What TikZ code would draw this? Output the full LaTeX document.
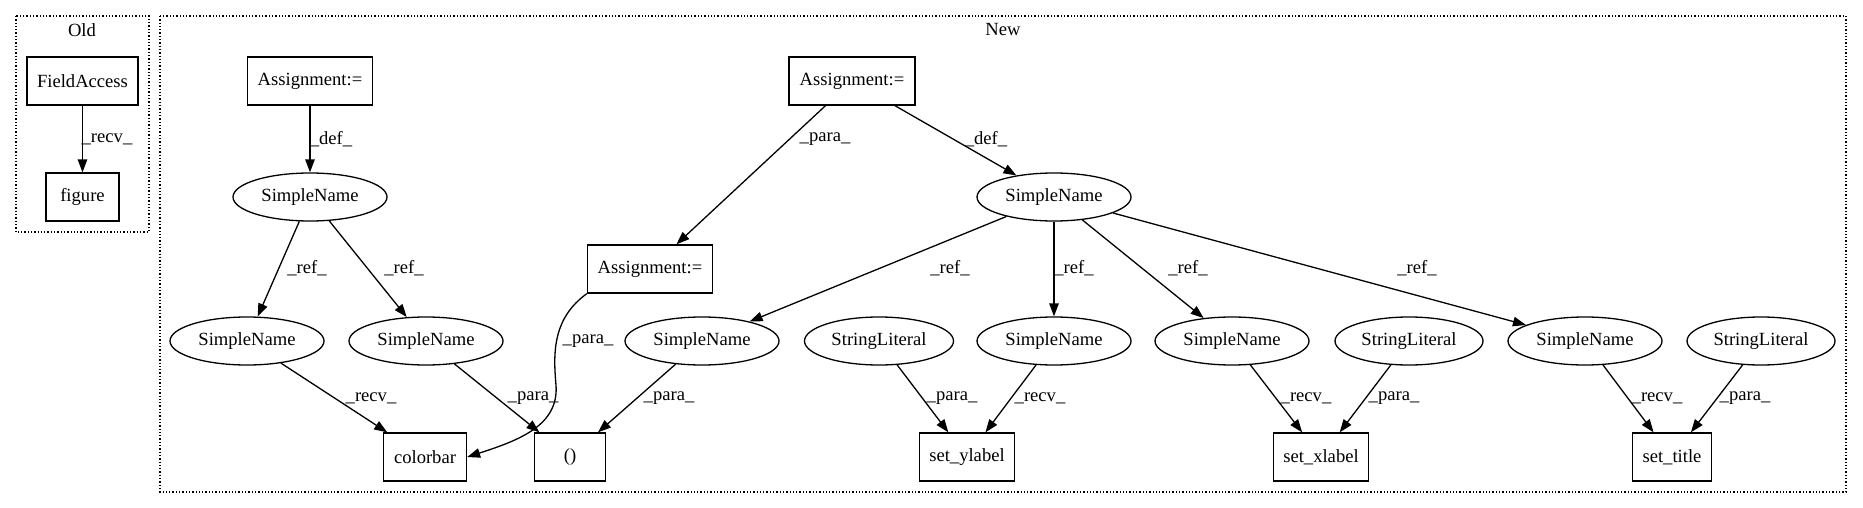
\documentclass[tikz,border=0pt]{standalone}
\usepackage{fontspec}
\setmainfont{Liberation Serif}
\usetikzlibrary{shapes.geometric,arrows.meta}
\begin{document}
\begin{tikzpicture}[x=1pt,y=1pt,
  every node/.style={font=\fontsize{18.6}{22}\selectfont},
  boxn/.style={draw,rectangle,line width=1.3pt,minimum height=48pt,inner sep=0pt},
  elln/.style={draw,ellipse,line width=1.3pt,minimum height=48pt,minimum width=154pt,inner sep=0pt},
  edg/.style={line width=1.3pt,-{Triangle[length=13pt,width=9.5pt]}},
  lbl/.style={inner sep=0pt,anchor=center},
  clus/.style={line width=1.3pt,dotted}]
\useasboundingbox (0,0) rectangle (1863,-508);
% clusters
\draw[clus] (16,-16) rectangle (149,-232);
\draw[clus] (160,-16) rectangle (1846,-492);
\node[lbl] (oldt) at (82,-30) {Old};
\node[lbl] (newt) at (1003,-30) {New};
% Old
\node[boxn,minimum width=111pt] (fa) at (82.5,-81) {FieldAccess};
\node[boxn,minimum width=73pt] (fig) at (82.5,-197) {figure};
% New left part
\node[boxn,minimum width=125pt] (asl) at (310,-81) {Assignment:=};
\node[elln] (sna) at (310,-197) {SimpleName};
\node[elln] (snb) at (247,-341) {SimpleName};
\node[elln] (snc) at (426,-341) {SimpleName};
\node[boxn,minimum width=83pt] (cbar) at (425,-457) {colorbar};
\node[boxn,minimum width=71pt] (par) at (570,-457) {()};
% New right part
\node[boxn,minimum width=126pt] (ast) at (852,-81) {Assignment:=};
\node[boxn,minimum width=125pt] (as2) at (650,-269) {Assignment:=};
\node[elln] (snd) at (1054,-197) {SimpleName};
\node[elln] (sne) at (702,-341) {SimpleName};
\node[elln,minimum width=149pt] (sl1) at (879,-341) {StringLiteral};
\node[elln] (snf) at (1054,-341) {SimpleName};
\node[elln] (sng) at (1232,-341) {SimpleName};
\node[elln,minimum width=148pt] (sl2) at (1409,-341) {StringLiteral};
\node[elln] (snh) at (1585,-341) {SimpleName};
\node[elln,minimum width=148pt] (sl3) at (1761,-341) {StringLiteral};
\node[boxn,minimum width=95pt] (ylab) at (967,-457) {set\_ylabel};
\node[boxn,minimum width=95pt] (xlab) at (1321,-457) {set\_xlabel};
\node[boxn,minimum width=79pt] (ttl) at (1672,-457) {set\_title};
% edges
\draw[edg] (fa) -- (fig) node[lbl] at (107,-139) {\_recv\_};
\draw[edg] (asl) -- (sna) node[lbl] at (331,-139) {\_def\_};
\draw[edg] (sna) -- (snb) node[lbl] at (307,-268) {\_ref\_};
\draw[edg] (sna) -- (snc) node[lbl] at (404,-268) {\_ref\_};
\draw[edg] (snb) -- (cbar) node[lbl] at (371,-398) {\_recv\_};
\draw[edg] (snc) -- (par) node[lbl] at (533,-398) {\_para\_};
\draw[edg] (ast) -- (as2) node[lbl] at (825,-139) {\_para\_};
\draw[edg] (ast) -- (snd) node[lbl] at (986,-139) {\_def\_};
\draw[edg] (as2.south west) .. controls (553,-318) and (553,-352) .. (556,-385)
   .. controls (559,-425) and (520,-440) .. (cbar.east) node[lbl] at (588,-341) {\_para\_};
\draw[edg] (snd) -- (sne) node[lbl] at (950,-268) {\_ref\_};
\draw[edg] (snd) -- (snf) node[lbl] at (1074,-268) {\_ref\_};
\draw[edg] (snd) -- (sng) node[lbl] at (1188,-268) {\_ref\_};
\draw[edg] (snd) -- (snh) node[lbl] at (1417,-268) {\_ref\_};
\draw[edg] (sne) -- (par) node[lbl] at (669,-398) {\_para\_};
\draw[edg] (sl1) -- (ylab) node[lbl] at (952,-398) {\_para\_};
\draw[edg] (snf) -- (ylab) node[lbl] at (1040,-398) {\_recv\_};
\draw[edg] (sng) -- (xlab) node[lbl] at (1306,-398) {\_recv\_};
\draw[edg] (sl2) -- (xlab) node[lbl] at (1394,-398) {\_para\_};
\draw[edg] (snh) -- (ttl) node[lbl] at (1657,-398) {\_recv\_};
\draw[edg] (sl3) -- (ttl) node[lbl] at (1745,-398) {\_para\_};
\end{tikzpicture}
\end{document}
